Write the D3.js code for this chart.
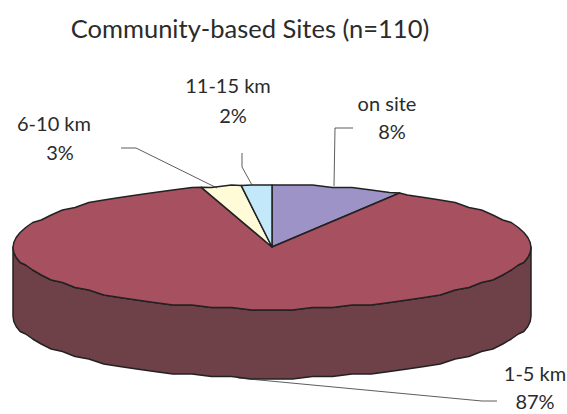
<!DOCTYPE html>
<html>
<head>
<meta charset="utf-8">
<script src="https://cdn.jsdelivr.net/npm/d3@7"></script>
<style>
  body { margin: 0; background: #fff; }
  text { font-family: Lato, sans-serif; fill: #2b2b2b; text-anchor: middle; }
</style>
</head>
<body>
<div id="chart"></div>
<script>
// Pie values, clockwise from 12 o'clock
var categories = ["on site", "1-5 km", "6-10 km", "11-15 km"];
var shares = [8.2, 87.4, 2.5, 1.9];
var colors = ["#9D93C6", "#A65060", "#FFFAD7", "#C3E8FA"];
var title = "Community-based Sites (n=110)";

var width = 567, height = 414;
var depth = 69;

var svg = d3.select("#chart").append("svg")
    .attr("width", width)
    .attr("height", height);

// unit circle -> flattened disc on the page
var x = d3.scaleLinear().domain([-1, 1]).range([13, 531]);
var y = d3.scaleLinear().domain([-1, 1]).range([185, 309]);

// The reference rim is a stepped polygon: fixed angle steps, y snapped to a grid
var step = Math.PI / 40;
function exact(a) { return [x(Math.sin(a)), y(-Math.cos(a))]; }
function rim(a) {
  var p = exact(a);
  return [p[0], Math.round(p[1] / 2.5) * 2.5];
}

function arcPoints(a0, a1) {
  var first = Math.ceil(a0 / step + 0.01), last = Math.floor(a1 / step - 0.01);
  var pts = d3.range(first, last + 1).map(function(i) { return rim(i * step); });
  return [exact(a0)].concat(pts, [exact(a1)]);
}

var line = d3.line();
var slices = d3.pie().sort(null).value(function(d) { return d; })(shares);

// side wall, only the front half of the disc shows
var front = arcPoints(Math.PI / 2, 3 * Math.PI / 2);
var wall = front.concat(front.slice().reverse().map(function(p) { return [p[0], p[1] + depth]; }));
svg.append("path")
    .attr("d", line(wall) + "Z")
    .attr("fill", "#6E4048")
    .attr("stroke", "#222")
    .attr("stroke-width", 1.5)
    .attr("stroke-linejoin", "round");

// top face
svg.selectAll("path.slice")
    .data(slices)
    .enter().append("path")
    .attr("class", "slice")
    .attr("d", function(d) {
      return line([[x(0), y(0)]].concat(arcPoints(d.startAngle, d.endAngle))) + "Z";
    })
    .attr("fill", function(d, i) { return colors[i]; })
    .attr("stroke", "#222")
    .attr("stroke-width", 1.5)
    .attr("stroke-linejoin", "round");

// leader lines
var leaders = [
  [[353, 128], [335, 128], [334, 186]],
  [[238, 378], [482, 401], [497, 401]],
  [[121, 148], [136, 148], [217, 188]],
  [[242, 153], [242, 167], [252, 185]]
];
svg.selectAll("path.leader")
    .data(leaders)
    .enter().append("path")
    .attr("class", "leader")
    .attr("d", line)
    .attr("fill", "none")
    .attr("stroke", "#333")
    .attr("stroke-width", 0.8);

// labels, name line and percent line are not quite centred on each other
var namePos = [[387, 111], [535, 381], [54, 131], [228, 93]];
var percentPos = [[392, 139], [535, 409], [60, 160], [233, 123]];
svg.selectAll("text.name")
    .data(categories)
    .enter().append("text")
    .attr("class", "name")
    .attr("x", function(d, i) { return namePos[i][0]; })
    .attr("y", function(d, i) { return namePos[i][1]; })
    .attr("font-size", 20)
    .text(function(d) { return d; });
svg.selectAll("text.percent")
    .data(shares)
    .enter().append("text")
    .attr("class", "percent")
    .attr("x", function(d, i) { return percentPos[i][0]; })
    .attr("y", function(d, i) { return percentPos[i][1]; })
    .attr("font-size", 20)
    .text(function(d) { return Math.round(d) + "%"; });

svg.append("text")
    .attr("x", 250)
    .attr("y", 38)
    .attr("font-size", 25.5)
    .text(title);
</script>
</body>
</html>
